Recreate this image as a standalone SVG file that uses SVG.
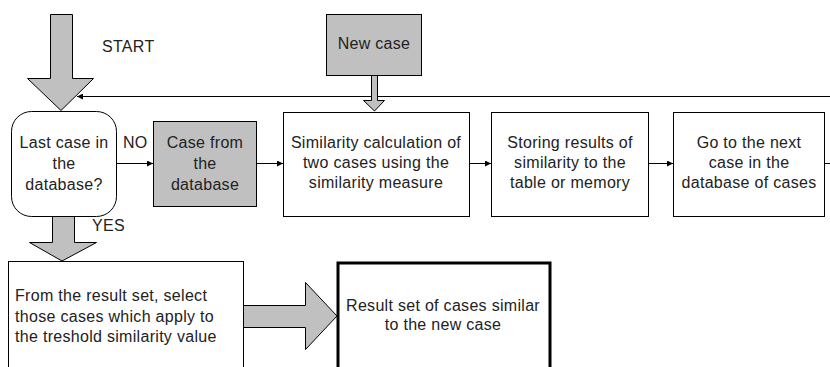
<svg xmlns="http://www.w3.org/2000/svg" width="830" height="367" viewBox="0 0 830 367">
  <style>
    text { font-family: "Liberation Sans", Arial, sans-serif; font-size: 16px; letter-spacing: 0.3px; fill: #222; }
    .c { text-anchor: middle; }
    .box { fill: #fff; stroke: #000; stroke-width: 1; }
    .gray { fill: #c0c0c0; stroke: #000; stroke-width: 1; }
    .fat { fill: #c0c0c0; stroke: #000; stroke-width: 1; stroke-linejoin: miter; }
    .line { fill: none; stroke: #000; stroke-width: 1; }
  </style>
  <defs>
    <marker id="tip" viewBox="0 0 10 10" refX="10" refY="5" markerWidth="9" markerHeight="6" markerUnits="userSpaceOnUse" orient="auto">
      <path d="M0,0 L10,5 L0,10 z" fill="#000"/>
    </marker>
  </defs>
  <rect width="830" height="367" fill="#fff"/>

  <!-- block arrows and connectors -->
  <g id="connectors">
    <!-- START arrow -->
    <path class="fat" d="M50.5,14.5 H72.5 V78.5 H93.5 L61,110.5 L27.5,78.5 H50.5 Z"/>
    <!-- feedback line from the right edge back to the start -->
    <path class="line" d="M830,96.5 H77" marker-end="url(#tip)"/>
    <!-- new case down into the similarity step -->
    <path class="fat" d="M371.5,75.5 H377.5 V100.5 H384.5 L374.5,111 L363.5,100.5 H371.5 Z"/>
    <!-- step arrows -->
    <path class="line" d="M116,163.5 H153" marker-end="url(#tip)"/>
    <path class="line" d="M256,163.5 H283" marker-end="url(#tip)"/>
    <path class="line" d="M469,163.5 H491" marker-end="url(#tip)"/>
    <path class="line" d="M648,163.5 H673" marker-end="url(#tip)"/>
    <path class="line" d="M824,163.5 H830"/>
    <!-- YES arrow -->
    <path class="fat" d="M52.5,216.5 H74.5 V242.5 H96.5 L62,261 L29.5,242.5 H52.5 Z"/>
    <!-- arrow into the result set -->
    <path class="fat" d="M243.5,305.5 H305.5 V282.5 L337,316 L305.5,349.5 V327.5 H243.5 Z"/>
  </g>

  <g id="start-label"><text x="102" y="52">START</text></g>
  <g id="no-label"><text x="123" y="148">NO</text></g>
  <g id="yes-label"><text x="92" y="231">YES</text></g>

  <g id="new-case">
    <rect class="gray" x="326.5" y="14.5" width="95" height="61"/>
    <text class="c" x="374" y="49">New case</text>
  </g>

  <g id="last-case">
    <rect class="box" x="11.5" y="111.5" width="105" height="105" rx="20" ry="20"/>
    <text class="c" x="64" y="148">Last case in</text>
    <text class="c" x="64" y="169">the</text>
    <text class="c" x="64" y="190">database?</text>
  </g>

  <g id="case-from-db">
    <rect class="gray" x="153.5" y="121.5" width="103" height="85"/>
    <text class="c" x="205" y="148">Case from</text>
    <text class="c" x="205" y="169">the</text>
    <text class="c" x="205" y="190">database</text>
  </g>

  <g id="similarity">
    <rect class="box" x="283.5" y="112.5" width="186" height="104"/>
    <text class="c" x="376" y="148">Similarity calculation of</text>
    <text class="c" x="376" y="168">two cases using the</text>
    <text class="c" x="376" y="188">similarity measure</text>
  </g>

  <g id="storing">
    <rect class="box" x="491.5" y="112.5" width="157" height="104"/>
    <text class="c" x="570" y="148">Storing results of</text>
    <text class="c" x="570" y="168">similarity to the</text>
    <text class="c" x="570" y="188">table or memory</text>
  </g>

  <g id="next-case">
    <rect class="box" x="673.5" y="112.5" width="151" height="104"/>
    <text class="c" x="749" y="148">Go to the next</text>
    <text class="c" x="749" y="168">case in the</text>
    <text class="c" x="749" y="188">database of cases</text>
  </g>

  <g id="select">
    <rect class="box" x="8.5" y="261.5" width="235" height="120"/>
    <text x="15" y="301">From the result set, select</text>
    <text x="15" y="322">those cases which apply to</text>
    <text x="15" y="342">the treshold similarity value</text>
  </g>

  <g id="result">
    <rect x="338" y="263" width="212" height="120" fill="#fff" stroke="#000" stroke-width="3"/>
    <text class="c" x="443" y="311">Result set of cases similar</text>
    <text class="c" x="443" y="330">to the new case</text>
  </g>
</svg>
